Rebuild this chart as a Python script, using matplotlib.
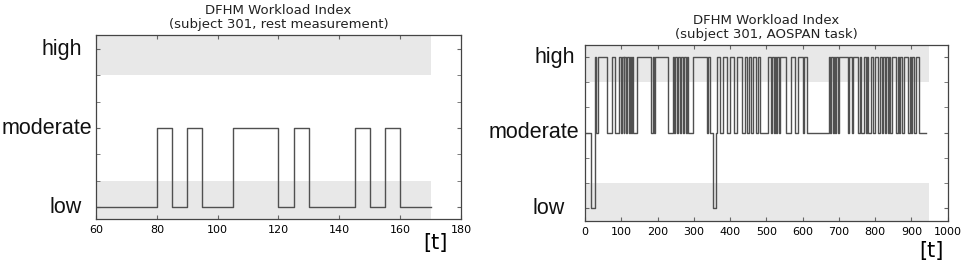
import numpy as np
import matplotlib.pyplot as plt
from matplotlib.transforms import offset_copy

# levels: 1 = low, 2 = moderate, 3 = high
level_names = ["low", "moderate", "high"]

# rest measurement: time where each state starts, and its level
rest_t = [60, 80, 85, 90, 95, 105, 120, 125, 130, 145, 150, 155, 160]
rest_level = [1, 2, 1, 2, 1, 2, 1, 2, 1, 2, 1, 2, 1]
rest_end = 170

# AOSPAN task (approximate)
task_t = [0, 17, 26, 28, 31, 35, 60, 75, 82, 94, 98, 101, 106, 108, 113, 116,
          120, 123, 127, 129, 132, 143, 183, 186, 189, 192, 229, 241, 245, 248,
          253, 256, 262, 265, 270, 273, 278, 281, 285, 298, 335, 340, 345, 353,
          361, 364, 372, 380, 390, 400, 410, 420, 432, 440, 447, 452, 458, 462,
          470, 478, 482, 505, 512, 516, 520, 523, 527, 530, 534, 537, 555, 568,
          580, 588, 600, 605, 612, 672, 676, 679, 683, 686, 690, 693, 697, 700,
          724, 729, 735, 740, 753, 757, 762, 770, 774, 777, 781, 790, 795, 800,
          808, 814, 818, 822, 826, 830, 835, 838, 842, 846, 858, 862, 866, 870,
          875, 880, 890, 897, 900, 903, 907, 912, 922]
task_level = [2, 1, 2, 3, 2, 3, 2, 3, 2, 3, 2, 3, 2, 3, 2, 3,
              2, 3, 2, 3, 2, 3, 2, 3, 2, 3, 2, 3, 2, 3,
              2, 3, 2, 3, 2, 3, 2, 3, 2, 3, 2, 3, 2, 1,
              2, 3, 2, 3, 2, 3, 2, 3, 2, 3, 2, 3, 2, 3,
              2, 3, 2, 3, 2, 3, 2, 3, 2, 3, 2, 3, 2, 3,
              2, 3, 2, 3, 2, 3, 2, 3, 2, 3, 2, 3, 2, 3,
              2, 3, 2, 3, 2, 3, 2, 3, 2, 3, 2, 3, 2, 3,
              2, 3, 2, 3, 2, 3, 2, 3, 2, 3, 2, 3, 2, 3,
              2, 3, 2, 3, 2, 3, 2, 3, 2]
task_end = 940

line_col = "#505050"
band_col = "#e8e8e8"


def draw_panel(ax, t, lev, t_end, xlim, ylim, band_x, xticks, title, gaps):
    ax.fill_between(band_x, ylim[0], 4 / 3, color=band_col, lw=0, zorder=0)
    ax.fill_between(band_x, 8 / 3, ylim[1], color=band_col, lw=0, zorder=0)
    ax.step(list(t) + [t_end], list(lev) + [lev[-1]], where="post",
            color=line_col, lw=1.0)
    ax.set_xlim(*xlim)
    ax.set_ylim(*ylim)
    ax.set_xticks(xticks)
    ax.set_yticks([1, 2, 3])
    ax.set_yticklabels([])
    ax.set_yticks([4 / 3, 5 / 3, 7 / 3, 8 / 3], minor=True)
    # level names, each with its own gap to the axis (as in the original)
    for y, name, g in zip([1, 2, 3], level_names, gaps):
        tr = offset_copy(ax.get_yaxis_transform(), fig=ax.figure,
                         x=-g, y=0, units="dots")
        ax.text(0, y, name, transform=tr, ha="right", va="center",
                fontsize=15.5, family="Liberation Sans", color="#111111")
    ax.tick_params(axis="x", labelsize=8, direction="in", top=True, length=3,
                   color="#666666", pad=4)
    ax.tick_params(axis="y", which="both", direction="in", right=True,
                   length=3, color="#666666")
    for s in ax.spines.values():
        s.set_color("#444444")
        s.set_linewidth(0.9)
    ax.set_title(title, fontsize=9.5, color="#222222", pad=5, linespacing=1.15)


fig = plt.figure(figsize=(9.64, 2.62), dpi=100)

ax1 = fig.add_axes([0.0996, 0.164, 0.3786, 0.702])
draw_panel(ax1, rest_t, rest_level, rest_end, (60, 180), (0.848, 3.177),
           [60, 170], range(60, 181, 20),
           "DFHM Workload Index\n(subject 301, rest measurement)",
           [14, 4, 14])
fig.text(435 / 964, 1 - 243 / 262, "[t]", fontsize=15, ha="center", va="center")

ax2 = fig.add_axes([0.607, 0.156, 0.376, 0.672])
draw_panel(ax2, task_t, task_level, task_end, (0, 1000), (0.828, 3.159),
           [0, 950], range(0, 1001, 100),
           "DFHM Workload Index\n(subject 301, AOSPAN task)",
           [20, 6, 10])
fig.text(931 / 964, 1 - 251 / 262, "[t]", fontsize=15, ha="center", va="center")

fig.savefig("out.png", dpi=100)
